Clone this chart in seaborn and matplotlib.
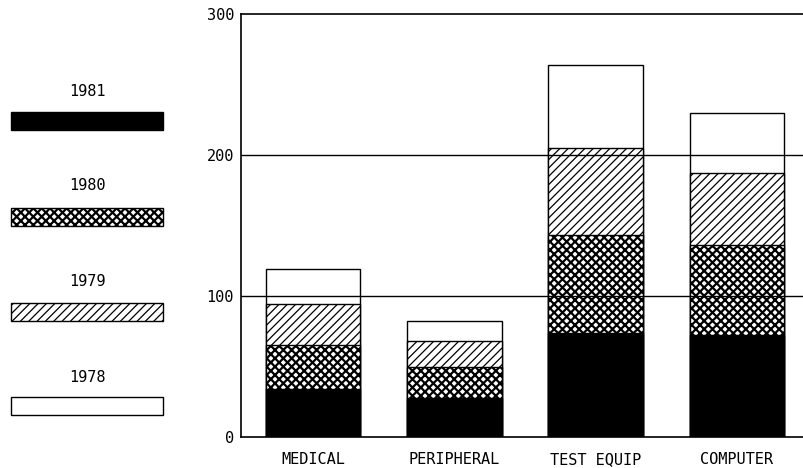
import matplotlib
matplotlib.use("Agg")
import matplotlib.pyplot as plt
import seaborn as sns
import numpy as np
import pandas as pd
from matplotlib.patches import Rectangle

categories = ["MEDICAL", "PERIPHERAL", "TEST EQUIP", "COMPUTER"]
years = ["1981", "1980", "1979", "1978"]
v1981 = [34, 28, 74, 72]
v1980 = [31, 22, 69, 64]
v1979 = [29, 18, 62, 51]
v1978 = [25, 14, 59, 43]
yticks = [0, 100, 200, 300]

sns.set_theme(style="white")
plt.rcParams["font.family"] = ["DejaVu Sans Mono", "DejaVu Sans"]
plt.rcParams["hatch.linewidth"] = 1.0
plt.rcParams["hatch.color"] = "black"

series = [v1981, v1980, v1979, v1978]
hatches = [None, "xxxx", "////", None]
hatch_lw = [1.0, 1.6, 0.9, 1.0]
faces = ["black", "white", "white", "white"]

cum = np.cumsum(np.array(series, dtype=float), axis=0)

fig = plt.figure(figsize=(8.04, 4.68), dpi=100)
ax = fig.add_axes([241 / 804, 1 - 437 / 468, 1 - 241 / 804, (437 - 14) / 468])


def style_patch(p, i):
    p.set_facecolor(faces[i])
    p.set_edgecolor("black")
    if hatches[i]:
        p.set_hatch(hatches[i])
        if hasattr(p, "set_hatch_linewidth"):
            p.set_hatch_linewidth(hatch_lw[i])


# draw from the top layer down so lower segments overlay
for i in range(len(series) - 1, -1, -1):
    df = pd.DataFrame({"cat": categories, "val": cum[i]})
    n_before = len(ax.patches)
    sns.barplot(data=df, x="cat", y="val", ax=ax, color=faces[i],
                edgecolor="black", linewidth=1.0, width=0.67, saturation=1)
    for p in ax.patches[n_before:]:
        style_patch(p, i)

ax.set_xlim(-0.51, 3.475)
ax.set_ylim(0, 300)
ax.set_yticks(yticks)
ax.set_yticklabels([str(t) for t in yticks], fontsize=11)
ax.tick_params(axis="y", length=3, width=1, color="black", pad=2, labelcolor="black")
ax.tick_params(axis="x", length=0, pad=11, labelsize=11, labelcolor="black")
ax.set_xlabel("")
ax.set_ylabel("")
for y in [100, 200]:
    ax.axhline(y, color="black", lw=1.0, zorder=5)
for s in ["left", "top", "bottom"]:
    ax.spines[s].set_visible(True)
    ax.spines[s].set_color("black")
    ax.spines[s].set_linewidth(1.2)
ax.spines["right"].set_visible(False)
ax.grid(False)

# legend panel (figure pixel coordinates)
lax = fig.add_axes([0, 0, 1, 1], facecolor="none")
lax.set_xlim(0, 804)
lax.set_ylim(468, 0)
lax.axis("off")
label_y = [91, 186, 281, 377]
box_top = [112, 208, 303, 397]
for i, yr in enumerate(years):
    lax.text(87, label_y[i], yr, ha="center", va="center", fontsize=11, color="black")
    r = Rectangle((11, box_top[i]), 152, 18, facecolor=faces[i], edgecolor="black",
                  linewidth=1.0)
    lax.add_patch(r)
    style_patch(r, i)

fig.savefig("out.png", dpi=100)
